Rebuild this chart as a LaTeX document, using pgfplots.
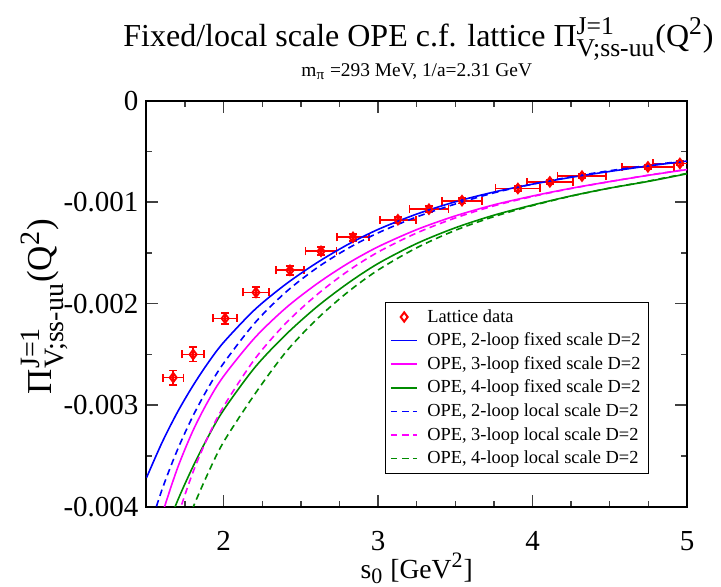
\documentclass[border=0pt]{standalone}
\usepackage{amsmath}
\usepackage{fontspec}
\setmainfont{Liberation Serif}
\usepackage{pgfplots}
\pgfplotsset{compat=1.18}
\usepackage{pgfplotstable}
\DeclareMathSizes{16}{16}{12.8}{9}
\DeclareMathSizes{17.5}{17.5}{14}{10}
\DeclareMathSizes{13.8}{13.8}{11}{8}
\DeclareMathSizes{9.7}{9.7}{7.6}{5.5}
\definecolor{xgreen}{RGB}{0,139,0}
\definecolor{xmag}{RGB}{255,0,255}
\definecolor{xblue}{RGB}{0,0,255}
\definecolor{xred}{RGB}{255,0,0}
\newcommand{\tickfont}{\fontsize{14.5}{16}\selectfont}

\pgfplotstableread{
x y ex ey
1.673 -0.002728 0.066 0.00007
1.802 -0.002500 0.072 0.00007
2.009 -0.002145 0.078 0.000057
2.209 -0.001889 0.086 0.00005
2.429 -0.001671 0.092 0.000045
2.630 -0.001484 0.100 0.00004
2.837 -0.001346 0.104 0.000035
3.128 -0.001173 0.115 0.00003
3.329 -0.001069 0.126 0.00003
3.543 -0.000985 0.130 0.000028
3.905 -0.000865 0.145 0.000025
4.112 -0.000800 0.150 0.000023
4.320 -0.000743 0.158 0.00002
4.747 -0.000652 0.170 0.00002
4.954 -0.000618 0.175 0.00002
}\lattice

\pgfplotstableread{
x b bd m md g gd
1.5  -0.003715 -0.004307 -0.004570 -0.005233 -0.004790 -0.005365
1.6  -0.003370 -0.003834 -0.004080 -0.004651 -0.004341 -0.004853
1.7  -0.003070 -0.003441 -0.003623 -0.004112 -0.003945 -0.004399
1.8  -0.002810 -0.003109 -0.003254 -0.003664 -0.003608 -0.004012
1.9  -0.002580 -0.002827 -0.002957 -0.003306 -0.003308 -0.003665
2.0  -0.002380 -0.002585 -0.002713 -0.003011 -0.003046 -0.003360
2.2  -0.002060 -0.002192 -0.002338 -0.002548 -0.002631 -0.002894
2.4  -0.001810 -0.001889 -0.002045 -0.002196 -0.002308 -0.002481
2.6  -0.001600 -0.001651 -0.001808 -0.001916 -0.002035 -0.002157
2.8  -0.001420 -0.001459 -0.001607 -0.001683 -0.001803 -0.001890
3.0  -0.001268 -0.001302 -0.001439 -0.001491 -0.001604 -0.001668
3.25 -0.001117 -0.001145 -0.001270 -0.001303 -0.001407 -0.001449
3.5  -0.000996 -0.001018 -0.001135 -0.001155 -0.001252 -0.001277
3.75 -0.000900 -0.000908 -0.001026 -0.001036 -0.001128 -0.001142
4.0  -0.000822 -0.000822 -0.000939 -0.000944 -0.001028 -0.001033
4.25 -0.000755 -0.000750 -0.000863 -0.000865 -0.000938 -0.000940
4.5  -0.000697 -0.000690 -0.000797 -0.000797 -0.000861 -0.000861
4.75 -0.000643 -0.000638 -0.000735 -0.000734 -0.000795 -0.000792
5.0  -0.000595 -0.000590 -0.000679 -0.000676 -0.000720 -0.000716
}\curves

\begin{document}
\begin{tikzpicture}
\useasboundingbox (-73.25pt,-40pt) rectangle (287.25pt,253.35pt);
\begin{axis}[
  at={(0pt,0pt)}, anchor=south west,
  scale only axis, width=270.25pt, height=203pt,
  xmin=1.5, xmax=5, ymin=-0.004, ymax=0,
  xtick={2,3,4,5},
  xticklabels={{\tickfont 2},{\tickfont 3},{\tickfont 4},{\tickfont 5}},
  minor xtick={1.75,2.25,2.5,2.75,3.25,3.5,3.75,4.25,4.5,4.75},
  ytick={-0.004,-0.003,-0.002,-0.001,0},
  yticklabels={{\tickfont -0.004},{\tickfont -0.003},{\tickfont -0.002},{\tickfont -0.001},{\tickfont 0}},
  minor ytick={-0.0035,-0.0025,-0.0015,-0.0005},
  scaled y ticks=false,
  tick align=inside,
  major tick length=6pt, minor tick length=3pt,
  axis line style={line width=1pt},
  every tick/.style={black!75, line width=0.7pt},
  /pgf/number format/assume math mode=true,
  every tick label/.append style={font=\tickfont},
  xticklabel style={font=\tickfont, anchor=base, yshift=-22pt},
  yticklabel style={font=\tickfont, xshift=-0.5pt},
  legend style={at={(0.929,0.081)}, anchor=south east, draw=black,
    font=\fontsize{9.2}{11}\selectfont, inner xsep=2.35pt, inner ysep=1.5pt,
    row sep=0pt, column sep=3pt,
    nodes={inner xsep=1.5pt, inner ysep=1.2pt, text height=7.2pt, text depth=2.2pt},
    cells={anchor=west}},
  legend image code/.code={\draw[mark repeat=2, mark phase=2, #1] plot coordinates {(0pt,0pt) (6.65pt,0pt) (13.3pt,0pt)};},
]
\addplot[only marks, xred, mark=diamond, mark size=2.3pt, mark options={line width=1pt},
  error bars/.cd, x dir=both, x explicit, y dir=both, y explicit,
  error bar style={line width=0.9pt, xred},
  error mark options={rotate=90, xred, mark size=2pt, line width=0.9pt}]
  table[x=x, y=y, x error=ex, y error=ey] {\lattice};
\addlegendentry{Lattice data}
\addplot[xblue, line width=0.8pt, smooth] table[x=x, y=b] {\curves};
\addlegendentry{OPE, 2-loop fixed scale D=2}
\addplot[xmag, line width=0.8pt, smooth] table[x=x, y=m] {\curves};
\addlegendentry{OPE, 3-loop fixed scale D=2}
\addplot[xgreen, line width=0.8pt, smooth] table[x=x, y=g] {\curves};
\addlegendentry{OPE, 4-loop fixed scale D=2}
\addplot[xblue, line width=0.8pt, smooth, dash pattern=on 3.3pt off 2.2pt] table[x=x, y=bd] {\curves};
\addlegendentry{OPE, 2-loop local scale D=2}
\addplot[xmag, line width=0.8pt, smooth, dash pattern=on 3.3pt off 2.2pt] table[x=x, y=md] {\curves};
\addlegendentry{OPE, 3-loop local scale D=2}
\addplot[xgreen, line width=0.8pt, smooth, dash pattern=on 3.3pt off 2.2pt] table[x=x, y=gd] {\curves};
\addlegendentry{OPE, 4-loop local scale D=2}
\end{axis}
\node[anchor=base, font=\fontsize{16}{18}\selectfont] at (136pt,229.85pt)
  {Fixed/local scale OPE c.f. lattice Π$^{\text{J=1}}_{\text{V;ss-uu}}$(Q$^{\text{2}}$)};
\node[anchor=base, font=\fontsize{9.7}{12}\selectfont] at (135.125pt,214.85pt)
  {m$_{\text{π}}$ =293 MeV, 1/a=2.31 GeV};
\node[anchor=base, font=\fontsize{13.8}{16}\selectfont] at (135.125pt,-35.8pt)
  {s$_{\text{0}}$ [GeV$^{\text{2}}$]};
\node[rotate=90, anchor=base, font=\fontsize{17.5}{19}\selectfont] at (-47.4pt,100pt)
  {Π$^{\text{J=1}}_{\text{V;ss-uu}}$(Q$^{\text{2}}$)};
\end{tikzpicture}
\end{document}
